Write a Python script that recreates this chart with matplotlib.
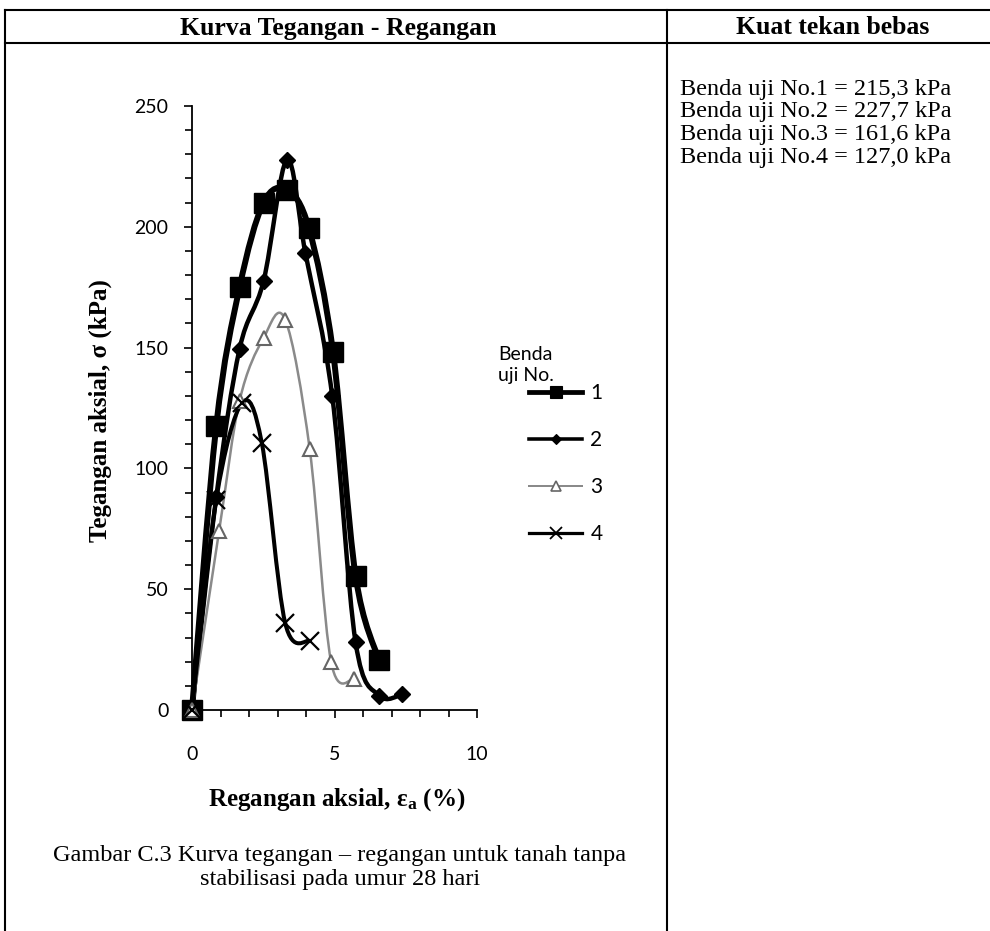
import matplotlib
matplotlib.use('agg')
import matplotlib.pyplot as plt
from matplotlib.path import Path
from matplotlib.patches import PathPatch
from matplotlib.lines import Line2D
from matplotlib.ticker import MultipleLocator

plt.rcParams['mathtext.fontset'] = 'custom'
plt.rcParams['mathtext.rm'] = 'Liberation Serif:bold'
plt.rcParams['mathtext.it'] = 'Liberation Serif:bold'

# strain (%) and axial stress (kPa) for each specimen
s1_x = [0, 0.85, 1.67, 2.51, 3.33, 4.10, 4.95, 5.74, 6.56]
s1_y = [0, 117.5, 175.0, 210.0, 215.3, 199.5, 148.0, 55.5, 20.5]
s2_x = [0, 0.85, 1.67, 2.51, 3.33, 3.98, 4.92, 5.74, 6.56, 7.38]
s2_y = [0, 88.0, 149.5, 177.5, 227.7, 189.0, 130.0, 28.0, 6.0, 6.5]
s3_x = [0, 0.95, 1.67, 2.51, 3.27, 4.13, 4.88, 5.70]
s3_y = [0, 74.0, 128.0, 154.0, 161.6, 108.0, 20.0, 13.0]
s4_x = [0, 0.85, 1.75, 2.45, 3.27, 4.13]
s4_y = [0, 87.0, 127.0, 110.5, 36.0, 28.5]

series_labels = ['1', '2', '3', '4']
strength_lines = ['Benda uji No.1 = 215,3 kPa',
                  'Benda uji No.2 = 227,7 kPa',
                  'Benda uji No.3 = 161,6 kPa',
                  'Benda uji No.4 = 127,0 kPa']

W, H = 990, 931


def fx(px):
    return px / W


def fy(py):
    return 1 - py / H


def smooth_path(xs, ys):
    # bezier path through the points, like a spreadsheet "smoothed line"
    pts = list(zip(xs, ys))
    n = len(pts)
    verts = [pts[0]]
    codes = [Path.MOVETO]
    for i in range(n - 1):
        p0 = pts[i - 1] if i > 0 else pts[i]
        p1 = pts[i]
        p2 = pts[i + 1]
        p3 = pts[i + 2] if i + 2 < n else pts[i + 1]
        c1 = (p1[0] + (p2[0] - p0[0]) / 6, p1[1] + (p2[1] - p0[1]) / 6)
        c2 = (p2[0] - (p3[0] - p1[0]) / 6, p2[1] - (p3[1] - p1[1]) / 6)
        verts += [c1, c2, p2]
        codes += [Path.CURVE4] * 3
    return Path(verts, codes)


fig = plt.figure(figsize=(W / 100, H / 100), dpi=100)
ax = fig.add_axes([fx(192), fy(710), fx(477) - fx(192), fy(106) - fy(710)])

styles = [
    dict(color='black', lw=4.3, marker='s', ms=14, mfc='black', mec='black', mew=1, lms=8.5),
    dict(color='black', lw=3.2, marker='D', ms=8.5, mfc='black', mec='black', mew=1, lms=5.5),
    dict(color='#8a8a8a', lw=1.8, marker='^', ms=10, mfc='white', mec='#666666', mew=1.5, lms=7),
    dict(color='black', lw=2.9, marker='x', ms=13, mfc='black', mec='black', mew=1.6, lms=9),
]
data = [(s1_x, s1_y), (s2_x, s2_y), (s3_x, s3_y), (s4_x, s4_y)]

handles = []
for (xs, ys), st in zip(data, styles):
    ax.add_patch(PathPatch(smooth_path(xs, ys), fill=False, edgecolor=st['color'],
                           lw=st['lw'], capstyle='round', joinstyle='round',
                           clip_on=False, zorder=2))
    ax.plot(xs, ys, linestyle='none', marker=st['marker'], ms=st['ms'], mfc=st['mfc'],
            mec=st['mec'], mew=st['mew'], clip_on=False, zorder=3)
    handles.append(Line2D([], [], color=st['color'], lw=st['lw'] * 0.8, marker=st['marker'],
                          ms=st['lms'], mfc=st['mfc'], mec=st['mec'], mew=st['mew'] * 0.8))

ax.set_xlim(0, 10)
ax.set_ylim(0, 250)
for s in ['top', 'right']:
    ax.spines[s].set_visible(False)
for s in ['left', 'bottom']:
    ax.spines[s].set_linewidth(1.3)
ax.xaxis.set_major_locator(MultipleLocator(5))
ax.xaxis.set_minor_locator(MultipleLocator(1))
ax.yaxis.set_major_locator(MultipleLocator(50))
ax.yaxis.set_minor_locator(MultipleLocator(10))
ax.tick_params(axis='x', which='major', direction='out', length=6, width=1.2, pad=20)
ax.tick_params(axis='x', which='minor', direction='out', length=5, width=1.2)
ax.tick_params(axis='y', which='major', direction='out', length=6, width=1.2, pad=11)
ax.tick_params(axis='y', which='minor', direction='out', length=5, width=1.2)
for lab in ax.get_xticklabels() + ax.get_yticklabels():
    lab.set_fontfamily('Lato')
    lab.set_fontsize(14)

fig.text(fx(337), fy(800), r'Regangan aksial, $\mathrm{\varepsilon_a}$ (%)', ha='center', va='center',
         family='Liberation Serif', weight='bold', fontsize=18)
fig.text(fx(100), fy(411), 'Tegangan aksial, \u03c3 (kPa)', ha='center', va='center', rotation=90,
         family='Liberation Serif', weight='bold', fontsize=18)

# legend
fig.text(fx(498), fy(346), 'Benda\nuji No.', ha='left', va='top', family='Lato', fontsize=14,
         linespacing=1.3)
ax.legend(handles, series_labels, loc='upper left', bbox_to_anchor=(fx(529), fy(383)),
          bbox_transform=fig.transFigure, frameon=False, borderpad=0, borderaxespad=0,
          handlelength=2.55, handletextpad=0.4, labelspacing=1.3,
          prop=dict(family='Lato', size=15))

# table frame
lk = dict(color='black', lw=1.5, transform=fig.transFigure)
fig.add_artist(Line2D([fx(5), 1], [fy(10), fy(10)], **lk))
fig.add_artist(Line2D([fx(5), 1], [fy(43), fy(43)], **lk))
fig.add_artist(Line2D([fx(5), fx(5)], [fy(10), 0], **lk))
fig.add_artist(Line2D([fx(667), fx(667)], [fy(10), 0], **lk))

fig.text(fx(338), fy(28), 'Kurva Tegangan - Regangan', ha='center', va='center',
         family='Liberation Serif', weight='bold', fontsize=18.5)
fig.text(fx(833), fy(28), 'Kuat tekan bebas', ha='center', va='center',
         family='Liberation Serif', weight='bold', fontsize=18.5)

for i, line in enumerate(strength_lines):
    fig.text(fx(680), fy(89 + 22.7 * i), line, ha='left', va='center',
             family='Liberation Serif', fontsize=17.5)

fig.text(fx(340), fy(855), 'Gambar C.3 Kurva tegangan \u2013 regangan untuk tanah tanpa', ha='center',
         va='center', family='Liberation Serif', fontsize=17.5)
fig.text(fx(340), fy(880), 'stabilisasi pada umur 28 hari', ha='center', va='center',
         family='Liberation Serif', fontsize=17.5)

fig.savefig('out.png', dpi=100)
